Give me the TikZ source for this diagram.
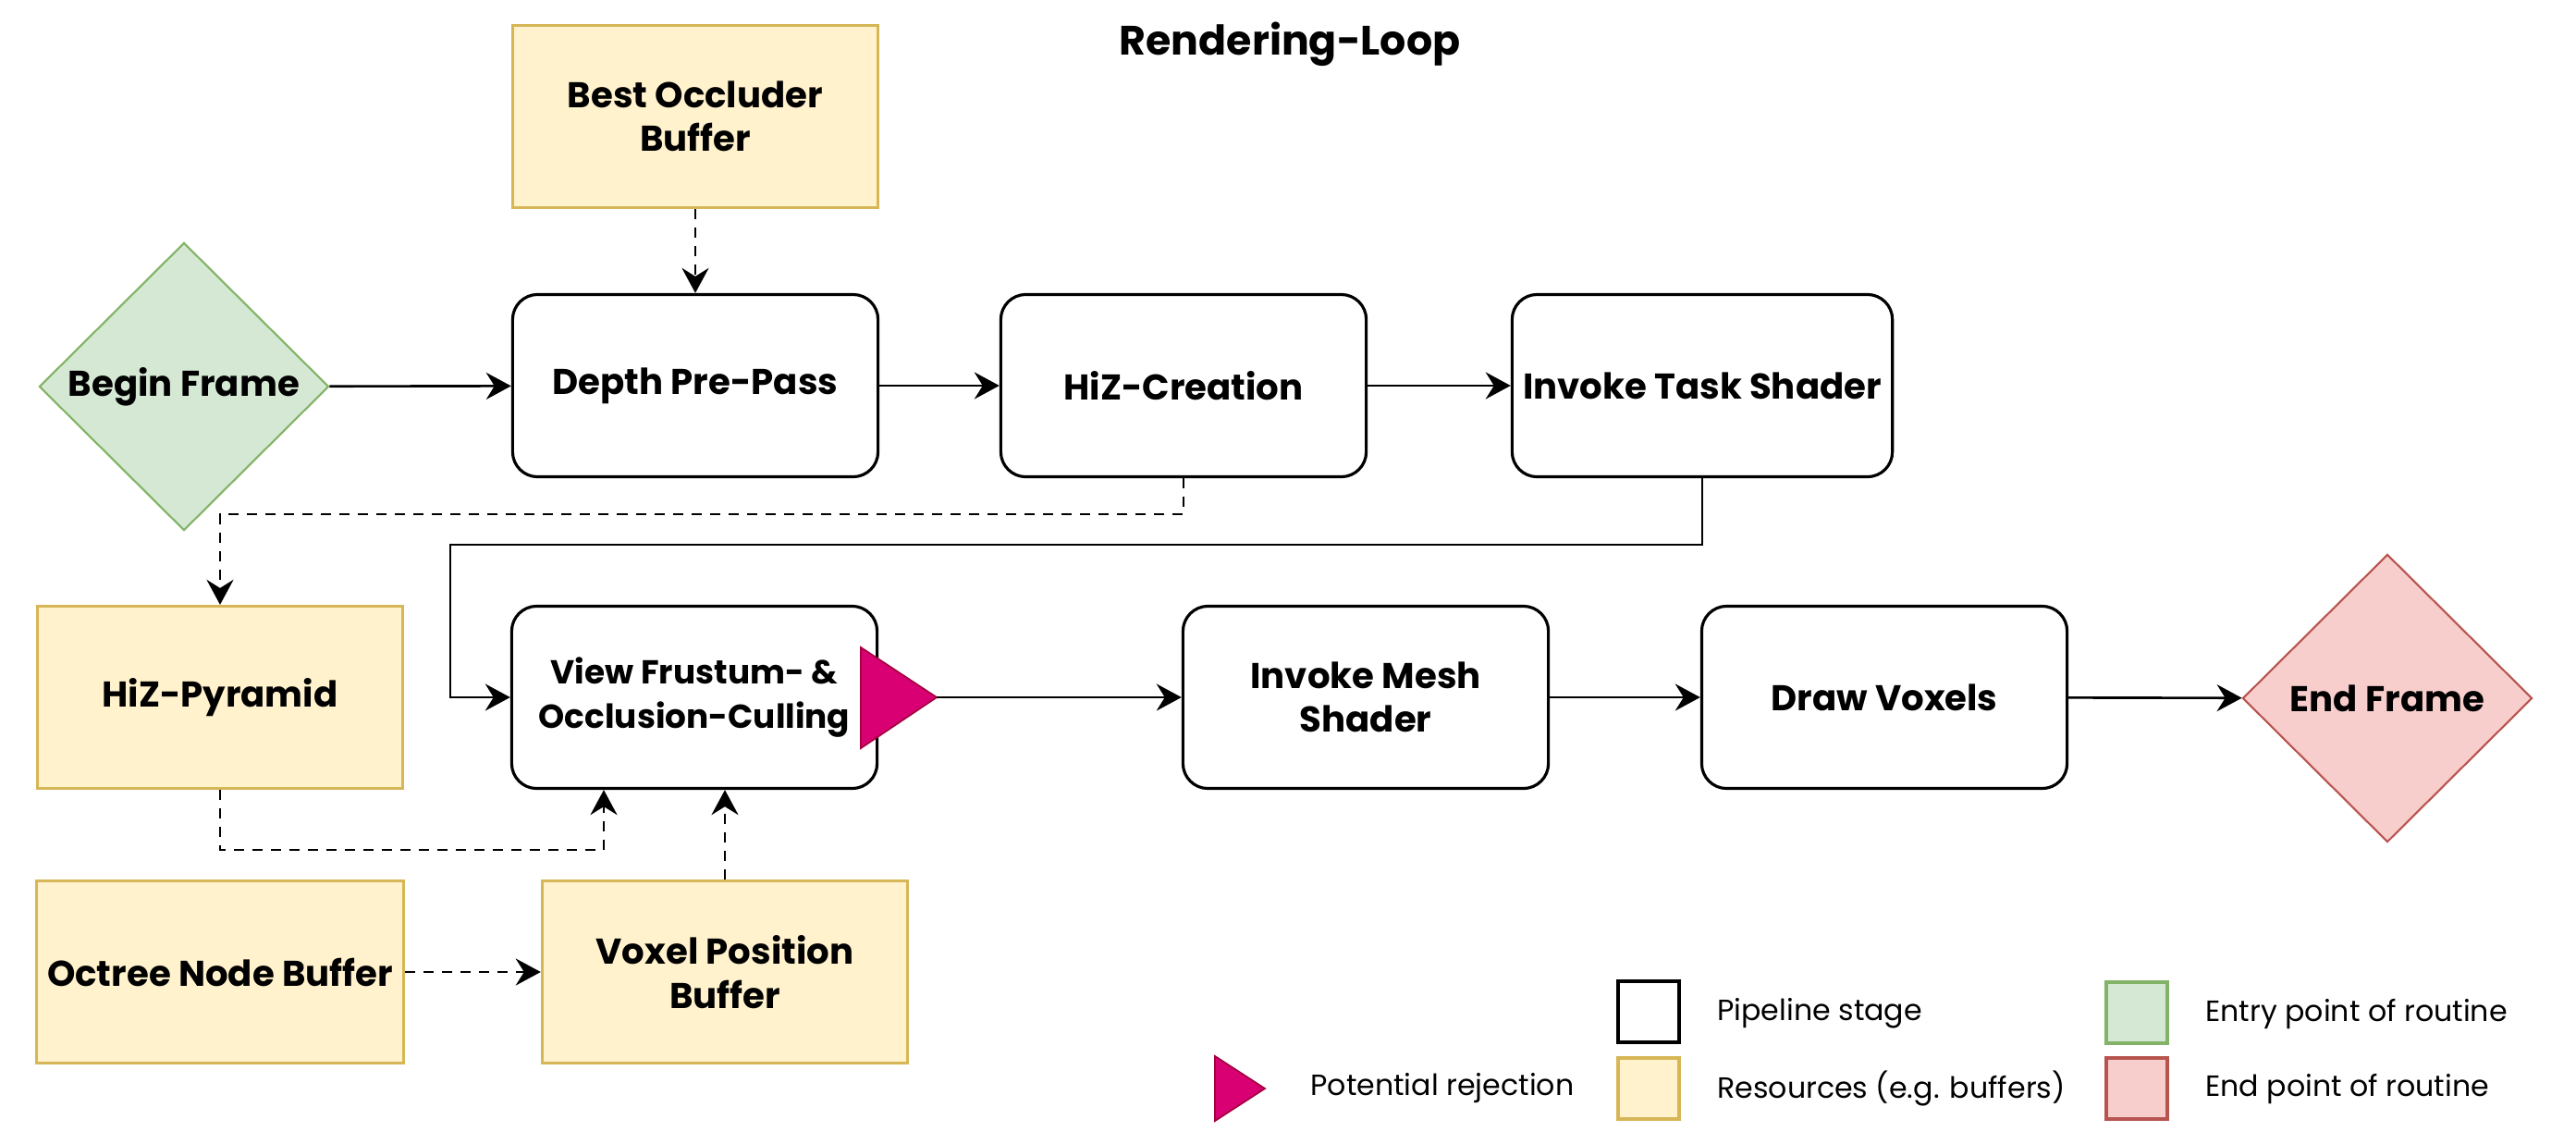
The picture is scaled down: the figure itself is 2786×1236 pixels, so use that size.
\documentclass[tikz,border=0pt]{standalone}
\usepackage{fontspec}
\setmainfont{Poppins}
\usepackage{tikz}
\usetikzlibrary{arrows.meta, calc, positioning, shapes.geometric}
\definecolor{resFill}{HTML}{FFF2CC}
\definecolor{resDraw}{HTML}{D6B656}
\definecolor{entryFill}{HTML}{D5E8D4}
\definecolor{entryDraw}{HTML}{82B366}
\definecolor{endFill}{HTML}{F8CECC}
\definecolor{endDraw}{HTML}{B85450}
\definecolor{rejFill}{HTML}{D80073}
\definecolor{rejDraw}{HTML}{A50040}

\begin{document}
\begin{tikzpicture}[x=0.01cm, y=-0.01cm, >={Stealth[length=2.7mm, width=2.9mm, inset=0.9mm]},
    stage/.style={draw, line width=0.9pt, rounded corners=0.27cm, minimum width=3.95cm, minimum height=1.97cm, align=center, font=\fontsize{11}{13.5}\selectfont\bfseries},
    res/.style={draw=resDraw, fill=resFill, line width=0.9pt, minimum width=3.95cm, minimum height=1.97cm, align=center, font=\fontsize{11}{13.5}\selectfont\bfseries},
    term/.style={diamond, draw, line width=0.6pt, inner sep=0pt, minimum width=3.13cm, minimum height=3.11cm, aspect=1, font=\fontsize{11}{13.5}\selectfont\bfseries},
    flow/.style={->, line width=0.75pt},
    dep/.style={->, line width=0.75pt, dash pattern=on 1.1mm off 0.9mm},
    legbox/.style={line width=0.9pt, minimum width=0.66cm, minimum height=0.66cm, inner sep=0pt},
    legtext/.style={anchor=west, font=\small}]
    \useasboundingbox (0,0) rectangle (2786,1236);

    \node[font=\fontsize{12.6}{15}\selectfont\bfseries] (title) at (1395, 48) {Rendering-Loop};

    % top row
    \node[res] (occ) at (752, 126) {Best Occluder\\Buffer};
    \node[term, fill=entryFill, draw=entryDraw] (begin) at (199, 418) {Begin Frame};
    \node[stage] (depth) at (752, 417) {Depth Pre-Pass};
    \node[stage] (hizc) at (1280, 417) {HiZ-Creation};
    \node[stage] (task) at (1841, 417) {Invoke Task Shader};

    % middle row
    \node[res] (pyr) at (238, 754) {HiZ-Pyramid};
    \node[stage, font=\fontsize{10.2}{13.5}\selectfont\bfseries] (vfc) at (751, 754) {View Frustum- \&\\Occlusion-Culling};
    \node[stage] (mesh) at (1477, 754) {Invoke Mesh\\Shader};
    \node[stage] (vox) at (2038, 754) {Draw Voxels};
    \node[term, fill=endFill, draw=endDraw] (end) at (2582, 755) {End Frame};

    % bottom row
    \node[res] (oct) at (238, 1051) {Octree Node Buffer};
    \node[res] (vpos) at (784, 1051) {Voxel Position\\Buffer};

    % rejection marker
    \coordinate (rejtip) at (1013, 754);
    \draw[rejDraw, fill=rejFill, line width=0.5pt] (931, 700) -- (rejtip) -- (931, 809) -- cycle;

    \draw[flow] (begin) -- (depth);
    \draw[flow] (depth) -- (hizc);
    \draw[flow] (hizc) -- (task);
    \draw[flow] (task.south) |- (487, 589) |- (vfc.west);
    \draw[flow] (rejtip) -- (mesh);
    \draw[flow] (mesh) -- (vox);
    \draw[flow] (vox) -- (end);

    \draw[dep] (occ) -- (depth);
    \draw[dep] (hizc.south) |- (238, 556) -- (pyr.north);
    \draw[dep] (pyr.south) |- ($(vfc.south)+(-98,65)$) -- ($(vfc.south)+(-98,0)$);
    \draw[dep] (vpos.north) -- (vpos.north |- vfc.south);
    \draw[dep] (oct) -- (vpos);

    % legend
    \draw[rejDraw, fill=rejFill, line width=0.5pt] (1314, 1142) -- (1368, 1177) -- (1314, 1212) -- cycle;
    \node[legtext] (lrej) at (1405, 1177) {Potential rejection};
    \node[legbox, draw] (lstage) at (1783, 1094) {};
    \node[legtext] at (1845, 1096) {Pipeline stage};
    \node[legbox, draw=resDraw, fill=resFill] (lres) at (1783, 1177) {};
    \node[legtext] at (1845, 1177) {Resources (e.g. buffers)};
    \node[legbox, draw=entryDraw, fill=entryFill] (lentry) at (2311, 1095) {};
    \node[legtext] at (2373, 1096) {Entry point of routine};
    \node[legbox, draw=endDraw, fill=endFill] (lend) at (2311, 1177) {};
    \node[legtext] at (2373, 1177) {End point of routine};
\end{tikzpicture}
\end{document}
